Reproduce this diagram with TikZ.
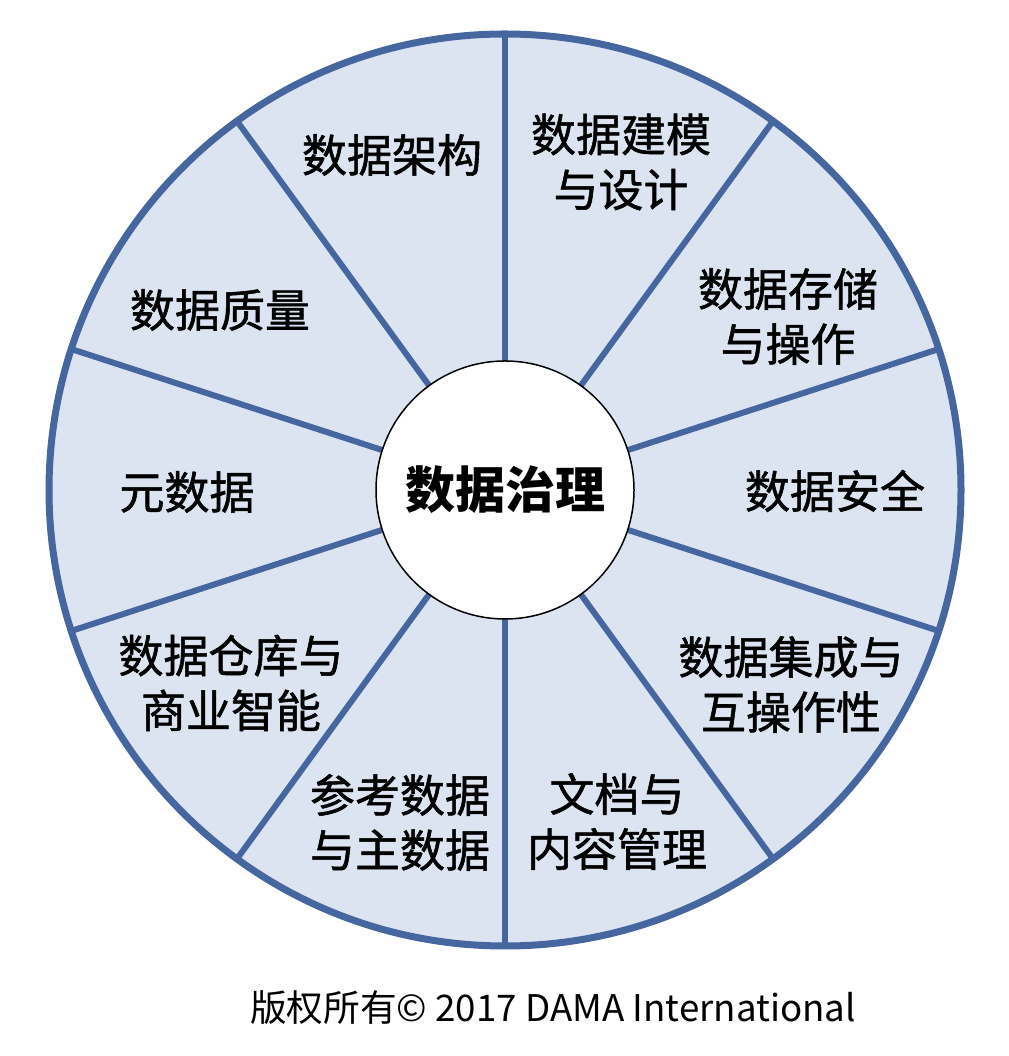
\documentclass[tikz,border=0pt]{standalone}
\usepackage{fontspec}
\setmainfont{Noto Sans CJK SC}
\newfontfamily\medfont[FakeBold=1.2]{Noto Sans CJK SC}
\definecolor{wheelfill}{RGB}{220,228,242}
\definecolor{wheelline}{RGB}{70,102,160}
\begin{document}
\begin{tikzpicture}[x=1pt,y=1pt,
  lbl/.style={align=center,font=\medfont\fontsize{45}{55}\selectfont,inner sep=0pt,text=black},
  divider/.style={draw=wheelline,line width=6pt},
  rim/.style={draw=wheelline,line width=7pt},
  hub/.style={circle,draw=black,line width=1.5pt,fill=white,minimum size=258pt,inner sep=0pt,font=\fontsize{50}{60}\selectfont\bfseries},
  note/.style={inner sep=0pt,font=\fontsize{36.7}{44}\selectfont}]
\useasboundingbox (0,0) rectangle (1008,1056);
\coordinate (c) at (505,566);
\fill[wheelfill] (c) circle (456);
\foreach \a in {90,54,18,-18,-54,-90,-126,-162,-198,-234}
  \draw[divider,shift={(c)}] (\a:120) -- (\a:456);
\draw[rim] (c) circle (456);
\node[hub] (gov) at (c) {数据治理};
\node[lbl] (arch) at (392,901) {数据架构};
\node[lbl] (model) at (621,894) {数据建模\\与设计};
\node[lbl] (store) at (788,739.5) {数据存储\\与操作};
\node[lbl] (sec) at (835,565) {数据安全};
\node[lbl] (integ) at (791,371.5) {数据集成与\\互操作性};
\node[lbl] (doc) at (617,234.5) {文档与\\内容管理};
\node[lbl] (ref) at (400,233.5) {参考数据\\与主数据};
\node[lbl] (dw) at (231,373) {数据仓库与\\商业智能};
\node[lbl] (meta) at (187,564) {元数据};
\node[lbl] (qual) at (220,746) {数据质量};
\node[note] (copy) at (553,48) {版权所有© 2017 DAMA International};
\end{tikzpicture}
\end{document}
